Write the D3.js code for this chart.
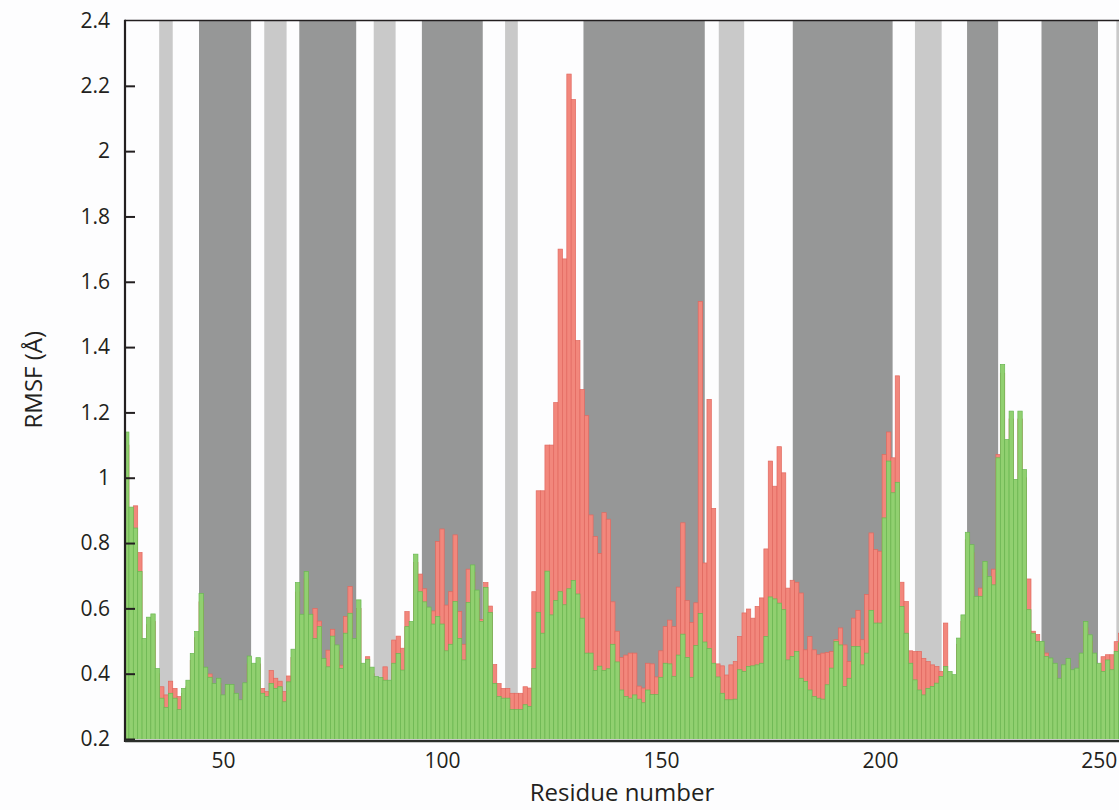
<!DOCTYPE html>
<html><head><meta charset="utf-8">
<script src="https://cdn.jsdelivr.net/npm/d3@7"></script>
<style>
body{margin:0;background:#fdfdfe;}
svg text{font-family:"Open Sans",sans-serif;fill:#231f20;}
</style>
</head><body>
<svg id="chart" width="1119" height="810"></svg>
<script>
// ---- data ----
const firstResidue = 28;
const residues = d3.range(firstResidue, 256);
const greenRMSF = [
1.14,0.91,0.846,0.713,0.508,0.573,0.583,0.416,0.325,0.297,
0.34,0.325,0.29,0.355,0.38,0.462,0.529,0.646,0.42,0.389,
0.37,0.386,0.335,0.367,0.367,0.34,0.32,0.372,0.454,0.432,
0.449,0.34,0.33,0.37,0.355,0.36,0.314,0.375,0.475,0.679,
0.582,0.713,0.582,0.508,0.544,0.447,0.421,0.515,0.488,0.416,
0.524,0.585,0.508,0.626,0.432,0.444,0.42,0.391,0.388,0.38,
0.38,0.432,0.462,0.411,0.544,0.56,0.766,0.651,0.62,0.604,
0.552,0.575,0.552,0.47,0.49,0.621,0.508,0.442,0.618,0.733,
0.656,0.56,0.664,0.587,0.37,0.33,0.325,0.325,0.29,0.29,
0.29,0.305,0.30,0.416,0.588,0.524,0.714,0.58,0.624,0.651,
0.611,0.66,0.685,0.644,0.57,0.463,0.463,0.41,0.423,0.41,
0.415,0.49,0.436,0.35,0.33,0.325,0.335,0.322,0.311,0.35,
0.336,0.336,0.389,0.432,0.43,0.392,0.457,0.521,0.45,0.389,
0.486,0.584,0.497,0.477,0.432,0.39,0.34,0.32,0.32,0.322,
0.412,0.407,0.422,0.424,0.427,0.432,0.514,0.635,0.629,0.616,
0.596,0.442,0.453,0.468,0.386,0.376,0.35,0.33,0.325,0.322,
0.366,0.417,0.499,0.488,0.361,0.386,0.483,0.483,0.427,0.463,
0.594,0.555,0.555,0.877,1.051,0.954,0.986,0.606,0.524,0.432,
0.381,0.35,0.335,0.355,0.361,0.371,0.391,0.422,0.407,0.397,
0.509,0.58,0.833,0.795,0.637,0.637,0.744,0.698,0.672,1.061,
1.347,1.117,1.204,0.995,1.204,1.025,0.596,0.524,0.499,0.499,
0.453,0.448,0.432,0.386,0.427,0.447,0.412,0.417,0.463,0.56,
0.519,0.463,0.432,0.407,0.442,0.412,0.468,0.494
];
const redRMSF = [
1.10,0.90,0.914,0.771,0.49,0.55,0.56,0.40,0.36,0.335,
0.377,0.355,0.33,0.34,0.36,0.44,0.51,0.62,0.40,0.399,
0.35,0.37,0.32,0.35,0.35,0.32,0.30,0.35,0.43,0.41,
0.43,0.355,0.345,0.41,0.386,0.377,0.345,0.393,0.45,0.65,
0.56,0.69,0.56,0.60,0.561,0.43,0.472,0.536,0.47,0.426,
0.575,0.667,0.49,0.60,0.41,0.452,0.40,0.37,0.37,0.421,
0.36,0.503,0.515,0.478,0.59,0.54,0.74,0.705,0.66,0.58,
0.592,0.805,0.843,0.61,0.651,0.825,0.59,0.49,0.72,0.71,
0.63,0.566,0.679,0.607,0.428,0.37,0.355,0.355,0.34,0.34,
0.34,0.36,0.356,0.651,0.96,0.96,1.10,1.10,1.23,1.70,
1.67,2.236,2.158,1.42,1.27,1.19,0.886,0.82,0.768,0.893,
0.873,0.62,0.53,0.45,0.457,0.463,0.463,0.362,0.356,0.432,
0.43,0.39,0.47,0.544,0.564,0.544,0.665,0.862,0.624,0.557,
0.617,1.54,0.739,1.24,0.906,0.43,0.424,0.396,0.427,0.437,
0.514,0.586,0.598,0.57,0.606,0.632,0.782,1.051,0.974,1.095,
1.015,0.662,0.686,0.68,0.647,0.473,0.514,0.473,0.458,0.463,
0.465,0.468,0.504,0.54,0.488,0.437,0.57,0.594,0.504,0.642,
0.831,0.78,0.775,1.071,1.14,1.061,1.312,0.68,0.621,0.47,
0.468,0.468,0.447,0.437,0.427,0.422,0.407,0.555,0.39,0.38,
0.49,0.56,0.81,0.77,0.62,0.662,0.72,0.68,0.72,1.071,
1.32,1.09,1.18,0.97,1.18,1.00,0.69,0.53,0.52,0.48,
0.463,0.43,0.41,0.37,0.41,0.43,0.39,0.40,0.44,0.54,
0.50,0.44,0.41,0.452,0.458,0.458,0.498,0.524
];
const lightBands = [[35.4,38.5],[59.4,64.5],[84.4,89.4],[114.4,117.3],[163.2,169.0],[208.0,214.1],[254.0,262]];
const darkBands = [[44.5,56.4],[67.4,80.4],[95.4,109.3],[132.3,160.0],[180.1,202.9],[219.9,227.0],[236.9,249.8]];
const yTickValues = [0.2,0.4,0.6,0.8,1.0,1.2,1.4,1.6,1.8,2.0,2.2,2.4];
const xTickValues = [50,100,150,200,250];
const xTitle = "Residue number";
const yTitle = "RMSF (Å)";

// ---- layout ----
const W = 1119, H = 810;
const pL = 125, pR = 1119, pT = 20.5, pB = 739;
const svg = d3.select("#chart");
svg.append("rect").attr("width",W).attr("height",H).attr("fill","#fdfdfe");

const x = d3.scaleLinear().domain([27.6, 254.6]).range([pL, pR]);
const y = d3.scaleLinear().domain([0.2, 2.4]).range([pB, pT]);

svg.append("clipPath").attr("id","plotclip").append("rect")
  .attr("x",pL).attr("y",pT).attr("width",pR-pL).attr("height",pB-pT);
const plot = svg.append("g").attr("clip-path","url(#plotclip)");

plot.selectAll("rect.light").data(lightBands).join("rect").attr("class","light")
  .attr("x",d=>x(d[0])).attr("width",d=>x(d[1])-x(d[0]))
  .attr("y",pT).attr("height",pB-pT).attr("fill","#c9c9c9");
plot.selectAll("rect.dark").data(darkBands).join("rect").attr("class","dark")
  .attr("x",d=>x(d[0])).attr("width",d=>x(d[1])-x(d[0]))
  .attr("y",pT).attr("height",pB-pT).attr("fill","#969797");

const redData = residues.map((r,i)=>({r, v:redRMSF[i]}));
const greenData = residues.map((r,i)=>({r, v:greenRMSF[i]}));

plot.selectAll("rect.red").data(redData).join("rect").attr("class","red")
  .attr("x",d=>x(d.r-0.5)).attr("width",d=>x(d.r+0.5)-x(d.r-0.5))
  .attr("y",d=>y(d.v)).attr("height",d=>y(0.2)-y(d.v)+3)
  .attr("fill","#f2877c").attr("stroke","#e2685f").attr("stroke-width",0.7);
plot.selectAll("rect.green").data(greenData).join("rect").attr("class","green")
  .attr("x",d=>x(d.r-0.5)).attr("width",d=>x(d.r+0.5)-x(d.r-0.5))
  .attr("y",d=>y(d.v)).attr("height",d=>y(0.2)-y(d.v)+3)
  .attr("fill","#91d070").attr("stroke","#69b852").attr("stroke-width",0.7);

// axes
const yAxis = d3.axisLeft(y).tickValues(yTickValues).tickSize(-10).tickPadding(15)
  .tickFormat(d=>String(+d.toFixed(1)));
const gy = svg.append("g").attr("transform",`translate(${pL},0)`).call(yAxis);
gy.select(".domain").remove();
gy.selectAll(".tick line").attr("stroke","#231f20").attr("stroke-width",2);
gy.selectAll(".tick text").attr("font-size",21).attr("font-family","'Open Sans',sans-serif").attr("fill","#231f20");
gy.selectAll(".tick").filter(d=>d===2.4).select("line").remove();

const xAxis = d3.axisBottom(x).tickValues(xTickValues).tickSize(0).tickPadding(12);
const gx = svg.append("g").attr("transform",`translate(0,${pB+2})`).call(xAxis);
gx.select(".domain").remove();
gx.selectAll(".tick text").attr("font-size",21).attr("font-family","'Open Sans',sans-serif").attr("fill","#231f20");

// frame lines
svg.append("line").attr("x1",pL).attr("x2",pR).attr("y1",pT).attr("y2",pT)
  .attr("stroke","#231f20").attr("stroke-width",1.6);
svg.append("line").attr("x1",pL).attr("x2",pL).attr("y1",pT-0.8).attr("y2",pB+3)
  .attr("stroke","#231f20").attr("stroke-width",2.2);
svg.append("line").attr("x1",pL).attr("x2",pR).attr("y1",pB+2).attr("y2",pB+2)
  .attr("stroke","#2a2e2a").attr("stroke-width",2.4);

// titles
svg.append("text").attr("x",(pL+pR)/2).attr("y",801).attr("text-anchor","middle")
  .attr("font-size",24).text(xTitle);
svg.append("text").attr("transform",`translate(42,${(pT+pB)/2}) rotate(-90)`)
  .attr("text-anchor","middle").attr("font-size",24).text(yTitle);
</script>
</body></html>
